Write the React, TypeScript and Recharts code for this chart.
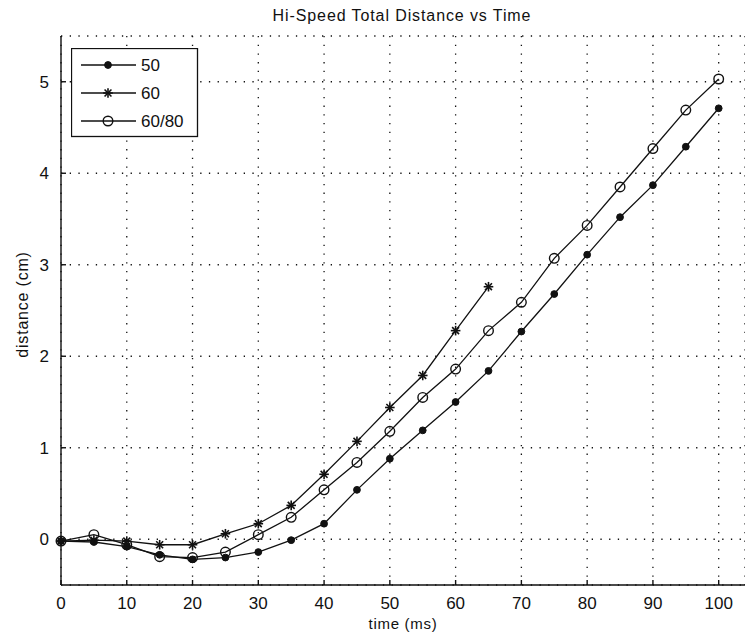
import React from "react";
import { LineChart, Line, XAxis, YAxis, CartesianGrid, Legend, Label } from "recharts";

const times = [0, 5, 10, 15, 20, 25, 30, 35, 40, 45, 50, 55, 60, 65, 70, 75, 80, 85, 90, 95, 100];
const dist50 = [-0.02, -0.03, -0.08, -0.17, -0.22, -0.2, -0.14, -0.01, 0.17, 0.54, 0.88, 1.19, 1.5, 1.84, 2.27, 2.68, 3.11, 3.52, 3.87, 4.29, 4.71];
const dist60 = [-0.02, -0.01, -0.02, -0.06, -0.06, 0.06, 0.17, 0.37, 0.71, 1.07, 1.44, 1.79, 2.28, 2.76];
const dist6080 = [-0.02, 0.05, -0.06, -0.19, -0.2, -0.14, 0.05, 0.24, 0.54, 0.84, 1.18, 1.55, 1.86, 2.28, 2.59, 3.07, 3.43, 3.85, 4.27, 4.69, 5.03];
const seriesNames = ["50", "60", "60/80"];
const xTicks = [0, 10, 20, 30, 40, 50, 60, 70, 80, 90, 100];
const yTicks = [0, 1, 2, 3, 4, 5];

const data = times.map((t, i) => ({
    t,
    s50: dist50[i],
    s60: i < dist60.length ? dist60[i] : null,
    s6080: dist6080[i],
}));

const FONT = "'Liberation Sans', Arial, Helvetica, sans-serif";
const INK = "#111";

// marker shapes, MATLAB style: '.', '*', 'o'
function dotShape(kind: string, cx: number, cy: number, key: string) {
    if (kind === "s50") {
        return <circle key={key} cx={cx} cy={cy} r={3.4} fill={INK} stroke={INK} />;
    }
    if (kind === "s60") {
        const r = 4.8;
        const d = r * 0.72;
        return (
            <g key={key} stroke={INK} strokeWidth={1.6}>
                <line x1={cx - r} y1={cy} x2={cx + r} y2={cy} />
                <line x1={cx} y1={cy - r} x2={cx} y2={cy + r} />
                <line x1={cx - d} y1={cy - d} x2={cx + d} y2={cy + d} />
                <line x1={cx - d} y1={cy + d} x2={cx + d} y2={cy - d} />
            </g>
        );
    }
    return <circle key={key} cx={cx} cy={cy} r={4.8} fill="none" stroke={INK} strokeWidth={1.4} />;
}

const makeDot = (kind: string) => (props: any) => {
    const { cx, cy, index } = props;
    const key = `${kind}-${index}`;
    if (cx == null || cy == null || props.value == null) return <g key={key} />;
    return dotShape(kind, cx, cy, key);
};

function LegendBox(props: any) {
    const payload = props.payload || [];
    return (
        <svg width={128} height={90} style={{ display: "block" }}>
            <rect x={0.5} y={0.5} width={126} height={88} fill="#fff" stroke={INK} strokeWidth={1.3} />
            {payload.map((p: any, i: number) => {
                const y = 17 + i * 28;
                return (
                    <g key={p.value}>
                        <line x1={10} y1={y} x2={65} y2={y} stroke={INK} strokeWidth={1.3} />
                        {dotShape(p.dataKey, 37, y, `lg-${i}`)}
                        <text x={70} y={y} dy="0.36em" fontSize={17} fontFamily={FONT} fill={INK}>
                            {p.value}
                        </text>
                    </g>
                );
            })}
        </svg>
    );
}

export default function App() {
    return (
        <div style={{ position: "absolute", left: 0, top: 0, width: 745, height: 640, background: "#fff", overflow: "hidden" }}>
            <div
                style={{
                    position: "absolute",
                    left: 202,
                    top: 8,
                    width: 400,
                    textAlign: "center",
                    fontFamily: FONT,
                    fontSize: 16,
                    lineHeight: "16px",
                    letterSpacing: 0.9,
                    color: INK,
                }}
            >
                Hi-Speed Total Distance vs Time
            </div>
            <LineChart width={745} height={640} data={data} margin={{ top: 36, right: 0, left: 11, bottom: 15 }}>
                <CartesianGrid stroke={INK} strokeWidth={1.3} strokeDasharray="1.3 7.4" />
                <XAxis
                    dataKey="t"
                    type="number"
                    domain={[0, 104]}
                    ticks={xTicks}
                    interval={0}
                    height={40}
                    axisLine={{ stroke: INK, strokeWidth: 1.4 }}
                    tickLine={{ stroke: INK, strokeWidth: 1.4 }}
                    tickSize={-5}
                    tickMargin={17}
                    tick={{ fill: INK, fontSize: 17, fontFamily: FONT }}
                >
                    <Label
                        content={({ viewBox }: any) => (
                            <text
                                x={viewBox.x + viewBox.width / 2}
                                y={viewBox.y + 44}
                                textAnchor="middle"
                                fontSize={15}
                                fontFamily={FONT}
                                letterSpacing={0.7}
                                fill={INK}
                            >
                                time (ms)
                            </text>
                        )}
                    />
                </XAxis>
                <XAxis
                    xAxisId="top"
                    orientation="top"
                    dataKey="t"
                    type="number"
                    domain={[0, 104]}
                    ticks={xTicks}
                    interval={0}
                    height={0}
                    axisLine={{ stroke: INK, strokeWidth: 1.4 }}
                    tickLine={{ stroke: INK, strokeWidth: 1.4 }}
                    tickSize={-5}
                    tick={false}
                />
                <YAxis
                    type="number"
                    domain={[-0.5, 5.5]}
                    ticks={yTicks}
                    interval={0}
                    width={50}
                    axisLine={{ stroke: INK, strokeWidth: 1.4 }}
                    tickLine={{ stroke: INK, strokeWidth: 1.4 }}
                    tickSize={-5}
                    tickMargin={17}
                    tick={{ fill: INK, fontSize: 17, fontFamily: FONT }}
                >
                    <Label
                        content={({ viewBox }: any) => {
                            const cx = 22;
                            const cy = viewBox.y + viewBox.height / 2 - 6;
                            return (
                                <text
                                    x={cx}
                                    y={cy}
                                    transform={`rotate(-90 ${cx} ${cy})`}
                                    textAnchor="middle"
                                    dy="0.36em"
                                    fontSize={16}
                                    fontFamily={FONT}
                                    letterSpacing={0.8}
                                    fill={INK}
                                >
                                    distance (cm)
                                </text>
                            );
                        }}
                    />
                </YAxis>
                <Legend
                    layout="vertical"
                    align="center"
                    verticalAlign="middle"
                    content={<LegendBox />}
                    wrapperStyle={{ position: "absolute", left: 71, top: 48, width: 128, height: 90 }}
                />
                <Line
                    dataKey="s50"
                    name={seriesNames[0]}
                    stroke={INK}
                    strokeWidth={1.3}
                    dot={makeDot("s50")}
                    isAnimationActive={false}
                    type="linear"
                />
                <Line
                    dataKey="s60"
                    name={seriesNames[1]}
                    stroke={INK}
                    strokeWidth={1.3}
                    dot={makeDot("s60")}
                    isAnimationActive={false}
                    type="linear"
                />
                <Line
                    dataKey="s6080"
                    name={seriesNames[2]}
                    stroke={INK}
                    strokeWidth={1.3}
                    dot={makeDot("s6080")}
                    isAnimationActive={false}
                    type="linear"
                />
            </LineChart>
        </div>
    );
}
